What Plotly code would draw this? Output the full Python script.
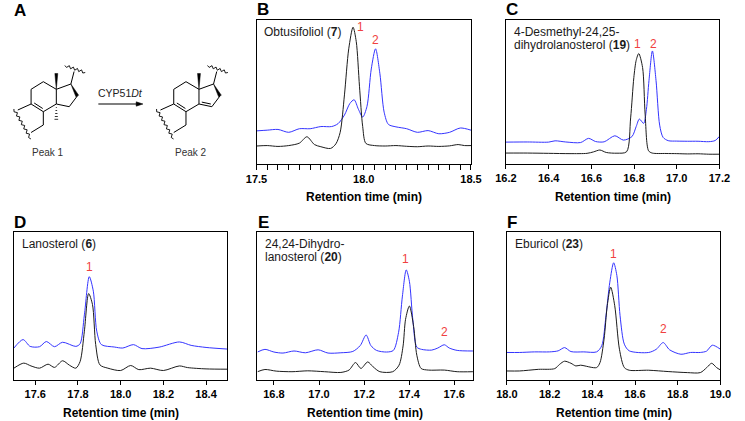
import plotly.graph_objects as go

W, H = 745, 421
FONT = "Liberation Sans, Arial, sans-serif"
BLACK = "#1c1c1c"
BLUE = "#3434ff"
RED = "#f04040"

# --- B: obtusifoliol (7) ---
b_black_t = [17.50, 17.55, 17.60, 17.65, 17.70, 17.735, 17.77, 17.80, 17.845, 17.87, 17.89, 17.91,
             17.93, 17.95, 17.965, 17.98, 17.995, 18.01, 18.05, 18.10, 18.15, 18.20, 18.25, 18.30,
             18.35, 18.40, 18.44, 18.47, 18.50]
b_black_y = [12.5, 12.8, 12.2, 12.8, 14.5, 18.9, 13.5, 12.0, 10.8, 14.0, 22.0, 48.0,
             80.0, 95.0, 85.0, 54.0, 26.0, 14.3, 12.8, 12.5, 12.8, 12.3, 12.0, 12.5,
             12.2, 12.6, 13.5, 12.8, 12.8]
b_blue_t = [17.50, 17.55, 17.60, 17.65, 17.70, 17.75, 17.80, 17.85, 17.88, 17.91, 17.935, 17.955,
            17.975, 17.995, 18.015, 18.035, 18.055, 18.075, 18.095, 18.115, 18.15, 18.20, 18.25,
            18.30, 18.35, 18.40, 18.45, 18.50]
b_blue_y = [23.0, 23.5, 24.0, 22.0, 24.5, 24.5, 26.0, 26.0, 28.0, 34.0, 42.0, 44.6,
            38.0, 32.6, 40.0, 66.0, 80.0, 63.0, 36.0, 27.5, 25.8, 24.5, 22.0,
            23.2, 21.0, 22.0, 25.0, 23.5]
b_peaks_t = [17.983, 18.055]
b_peaks_y = [95, 86]
b_peaks_txt = ["1", "2"]

# --- C: 4-desmethyl-24,25-dihydrolanosterol (19) ---
c_black_t = [16.20, 16.30, 16.40, 16.50, 16.58, 16.61, 16.64, 16.67, 16.72, 16.765, 16.784, 16.799,
             16.81, 16.822, 16.84, 16.852, 16.868, 16.885, 16.95, 17.00, 17.05, 17.10, 17.15, 17.20]
c_black_y = [7.6, 7.6, 7.4, 7.2, 7.4, 8.4, 9.7, 8.0, 7.5, 8.5, 32.0, 60.0,
             72.0, 76.7, 67.0, 34.6, 9.2, 7.6, 7.3, 7.2, 7.0, 7.1, 6.8, 6.8]
c_blue_t = [16.20, 16.30, 16.40, 16.43, 16.48, 16.55, 16.587, 16.62, 16.66, 16.71, 16.75, 16.79,
            16.81, 16.825, 16.845, 16.858, 16.87, 16.886, 16.903, 16.92, 16.936, 16.96, 17.00,
            17.05, 17.10, 17.15, 17.18, 17.20]
c_blue_y = [15.2, 15.3, 15.2, 16.1, 15.3, 14.9, 17.8, 15.6, 15.4, 19.6, 16.6, 19.0,
            26.0, 31.2, 28.2, 38.0, 58.0, 78.5, 58.0, 27.0, 18.5, 16.2, 15.9,
            15.8, 15.8, 15.5, 16.3, 19.2]
c_peaks_t = [16.817, 16.889]
c_peaks_y = [83, 83]
c_peaks_txt = ["1", "2"]

# --- D: lanosterol (6) ---
d_black_t = [17.50, 17.546, 17.58, 17.62, 17.66, 17.69, 17.728, 17.76, 17.79, 17.81, 17.83, 17.85,
             17.868, 17.883, 17.903, 17.94, 18.00, 18.047, 18.085, 18.14, 18.20, 18.275, 18.313,
             18.40, 18.50]
d_black_y = [8.0, 11.4, 9.5, 8.0, 10.7, 8.5, 13.0, 10.0, 8.0, 12.5, 33.0, 58.4,
             51.0, 24.0, 10.2, 8.0, 6.4, 9.8, 7.0, 8.0, 6.4, 9.5, 8.4,
             7.5, 7.3]
d_blue_t = [17.50, 17.543, 17.576, 17.62, 17.652, 17.69, 17.728, 17.79, 17.81, 17.83, 17.853,
            17.872, 17.888, 17.91, 17.97, 18.01, 18.06, 18.10, 18.18, 18.275, 18.33, 18.40, 18.50]
d_blue_y = [21.6, 27.3, 22.7, 22.5, 26.0, 22.5, 25.5, 22.7, 24.5, 44.0, 69.8,
            60.0, 33.0, 23.9, 22.3, 21.6, 23.9, 21.2, 22.2, 25.7, 23.4, 22.0, 20.9]
d_peaks_t = [17.853]
d_peaks_y = [76.6]
d_peaks_txt = ["1"]

# --- E: 24,24-dihydrolanosterol (20) ---
e_black_t = [16.727, 16.76, 16.81, 16.88, 16.95, 17.025, 17.097, 17.133, 17.162, 17.186, 17.216,
             17.24, 17.27, 17.327, 17.355, 17.373, 17.384, 17.401, 17.42, 17.434, 17.453, 17.485,
             17.556, 17.613, 17.683]
e_black_y = [5.6, 7.1, 6.0, 5.6, 6.2, 5.6, 5.1, 6.7, 11.8, 7.8, 12.2,
             8.9, 5.6, 5.6, 10.0, 23.0, 41.0, 50.0, 36.0, 16.7, 7.8, 6.7,
             6.7, 5.6, 5.6]
e_blue_t = [16.727, 16.76, 16.80, 16.84, 16.889, 16.94, 16.996, 17.04, 17.097, 17.15, 17.183,
            17.209, 17.23, 17.255, 17.30, 17.33, 17.353, 17.37, 17.387, 17.401, 17.416, 17.434,
            17.455, 17.50, 17.527, 17.556, 17.578, 17.613, 17.683]
e_blue_y = [18.9, 20.7, 18.9, 18.2, 19.6, 18.4, 20.4, 18.2, 18.4, 19.3, 23.3,
            30.4, 23.3, 20.0, 18.9, 20.0, 32.2, 56.7, 74.4, 66.7, 41.1, 22.2,
            20.7, 20.2, 21.6, 23.8, 21.6, 20.0, 19.6]
e_peaks_t = [17.384, 17.556]
e_peaks_y = [81.6, 32.2]
e_peaks_txt = ["1", "2"]

# --- F: eburicol (23) ---
f_black_t = [18.00, 18.058, 18.148, 18.224, 18.247, 18.27, 18.30, 18.323, 18.345, 18.42, 18.436,
             18.455, 18.47, 18.486, 18.505, 18.527, 18.55, 18.573, 18.664, 18.755, 18.845, 18.906,
             18.936, 18.959, 18.982, 19.00]
f_black_y = [6.1, 6.1, 7.2, 7.7, 10.6, 12.7, 11.3, 9.5, 10.0, 8.4, 11.8,
             27.6, 50.2, 62.7, 50.2, 20.8, 8.4, 6.6, 6.6, 5.7, 5.0, 5.0,
             8.4, 11.3, 8.4, 6.8]
f_blue_t = [18.00, 18.058, 18.13, 18.20, 18.24, 18.27, 18.30, 18.36, 18.42, 18.444, 18.464,
            18.482, 18.50, 18.515, 18.53, 18.55, 18.573, 18.664, 18.70, 18.732, 18.762, 18.815,
            18.86, 18.906, 18.935, 18.962, 19.00]
f_blue_y = [18.6, 18.6, 19.0, 19.0, 19.7, 21.9, 19.2, 19.0, 19.0, 23.1, 43.4,
            66.1, 79.2, 70.6, 43.4, 24.2, 19.7, 18.6, 20.8, 25.3, 20.4, 17.4,
            18.6, 18.6, 19.5, 23.5, 20.8]
f_peaks_t = [18.497, 18.732]
f_peaks_y = [85.3, 34.8]
f_peaks_txt = ["1", "2"]


def px(x, y):
    """pixel -> paper coords"""
    return x / W, 1 - y / H


panels = [
    dict(letter="B", box=(253, 20, 474, 164), rng=[17.5, 18.5], tick0=17.5, dtick=0.5, minor=0.05,
         black=(b_black_t, b_black_y), blue=(b_blue_t, b_blue_y),
         peaks=(b_peaks_t, b_peaks_y, b_peaks_txt), label=["Obtusifoliol (<b>7</b>)"]),
    dict(letter="C", box=(510, 20, 730, 164), rng=[16.2, 17.2], tick0=16.2, dtick=0.2, minor=None,
         black=(c_black_t, c_black_y), blue=(c_blue_t, c_blue_y),
         peaks=(c_peaks_t, c_peaks_y, c_peaks_txt),
         label=["4-Desmethyl-24,25-", "dihydrolanosterol (<b>19</b>)"]),
    dict(letter="D", box=(3, 232, 223, 380), rng=[17.5, 18.5], tick0=17.6, dtick=0.2, minor=None,
         black=(d_black_t, d_black_y), blue=(d_blue_t, d_blue_y),
         peaks=(d_peaks_t, d_peaks_y, d_peaks_txt), label=["Lanosterol (<b>6</b>)"]),
    dict(letter="E", box=(254, 232, 476, 380), rng=[16.727, 17.683], tick0=16.8, dtick=0.2, minor=None,
         black=(e_black_t, e_black_y), blue=(e_blue_t, e_blue_y),
         peaks=(e_peaks_t, e_peaks_y, e_peaks_txt),
         label=["24,24-Dihydro-", "lanosterol (<b>20</b>)"]),
    dict(letter="F", box=(511, 232, 731, 380), rng=[18.0, 19.0], tick0=18.0, dtick=0.2, minor=None,
         black=(f_black_t, f_black_y), blue=(f_blue_t, f_blue_y),
         peaks=(f_peaks_t, f_peaks_y, f_peaks_txt), label=["Eburicol (<b>23</b>)"]),
]

fig = go.Figure()
layout = dict(width=W, height=H, margin=dict(l=0, r=0, t=0, b=0), showlegend=False,
              plot_bgcolor="white", paper_bgcolor="white", font=dict(family=FONT, color="black"))
annotations = []
shapes = []


def note(x, y, text, size, color="black", xanchor="center"):
    lx, ly = px(x, y)
    annotations.append(dict(x=lx, y=ly, xref="paper", yref="paper", text=text, showarrow=False,
                            xanchor=xanchor, yanchor="middle", font=dict(size=size, color=color)))


for i, p in enumerate(panels, start=1):
    sfx = "" if i == 1 else str(i)
    x0, y0, x1, y1 = p["box"]
    xa = dict(domain=[x0 / W, x1 / W], range=p["rng"], anchor="y" + sfx,
              showline=True, mirror=True, linecolor="black", linewidth=1.3,
              showgrid=False, zeroline=False, ticks="outside", ticklen=4, tickwidth=1.2,
              tickcolor="black", tick0=p["tick0"], dtick=p["dtick"], tickformat=".1f",
              tickfont=dict(size=11, weight="bold", family=FONT, color="black"))
    if p["minor"]:
        xa["minor"] = dict(dtick=p["minor"], ticks="outside", ticklen=5, tickwidth=1.2, tickcolor="black")
        xa["ticklen"] = 5
    ya = dict(domain=[1 - y1 / H, 1 - y0 / H], range=[0, 100], anchor="x" + sfx,
              showline=True, mirror=True, linecolor="black", linewidth=1.3,
              showgrid=False, zeroline=False, showticklabels=False, ticks="")
    layout["xaxis" + sfx] = xa
    layout["yaxis" + sfx] = ya

    fig.add_trace(go.Scatter(x=p["blue"][0], y=p["blue"][1], mode="lines", xaxis="x" + sfx, yaxis="y" + sfx,
                             line=dict(color=BLUE, width=1, shape="spline", smoothing=0.8)))
    fig.add_trace(go.Scatter(x=p["black"][0], y=p["black"][1], mode="lines", xaxis="x" + sfx, yaxis="y" + sfx,
                             line=dict(color=BLACK, width=1, shape="spline", smoothing=0.8)))

    for t, v, s in zip(*p["peaks"]):
        annotations.append(dict(x=t, y=v, xref="x" + sfx, yref="y" + sfx, text=s, showarrow=False,
                                xanchor="center", yanchor="middle", font=dict(size=12, color=RED)))

    for k, line in enumerate(p["label"]):
        note(x0 + 6, y0 + 11.5 + 13.4 * k, line, 12, "#1a1a1a", xanchor="left")

    note(x0 - 2, y0 - 10, "<b>%s</b>" % p["letter"], 17, xanchor="left")
    note((x0 + x1) / 2, y1 + 33, "<b>Retention time (min)</b>", 12)

# --- panel A: reaction scheme drawn with shapes ---
note(1, 11, "<b>A</b>", 17, xanchor="left")


def seg(a, b, w=1.0):
    (ax, ay), (bx, by) = px(*a), px(*b)
    shapes.append(dict(type="line", xref="paper", yref="paper", x0=ax, y0=ay, x1=bx, y1=by,
                       line=dict(color="black", width=w)))


def poly(pts):
    d = "M " + " L ".join("%f,%f" % px(*q) for q in pts) + " Z"
    shapes.append(dict(type="path", xref="paper", yref="paper", path=d,
                       fillcolor="black", line=dict(color="black", width=0.5)))


def wavy(a, b, n=6, amp=1.3):
    ax, ay = a
    bx, by = b
    dx, dy = bx - ax, by - ay
    ln = (dx * dx + dy * dy) ** 0.5
    nx, ny = -dy / ln, dx / ln
    pts = []
    for k in range(2 * n + 1):
        f = k / (2 * n)
        s = amp * (1 if k % 2 else -1) if 0 < k < 2 * n else 0
        pts.append(px(ax + dx * f + nx * s, ay + dy * f + ny * s))
    d = "M " + " L ".join("%f,%f" % q for q in pts)
    shapes.append(dict(type="path", xref="paper", yref="paper", path=d, line=dict(color="black", width=0.9)))


def molecule(ox, product):
    v = {k: (x + ox, y) for k, (x, y) in dict(
        v1=(20.7, 89.3), v2=(33.3, 81.7), v3=(46.7, 89.3), v4=(46.7, 104), v5=(33.3, 111.7),
        v6=(20.7, 104), v7=(61.7, 84), v8=(68.3, 96), v9=(60, 106.7)).items()}
    for a, b in [("v1", "v2"), ("v2", "v3"), ("v3", "v4"), ("v4", "v5"), ("v5", "v6"), ("v6", "v1"),
                 ("v3", "v7"), ("v8", "v9"), ("v9", "v4")]:
        seg(v[a], v[b])
    # double bond inside ring C
    seg((23.9 + ox, 103.0), (32.7 + ox, 108.5))
    if product:
        seg((49.6 + ox, 102.1), (58.9 + ox, 104.0))
    else:
        for k, yy in enumerate([107.5, 110.5, 113.5, 116.5, 119.3]):
            hw = 0.5 + 0.35 * k
            seg((46.7 + ox - hw, yy), (46.7 + ox + hw, yy), 0.8)
    # methyl wedge and D-ring wedge
    poly([v["v3"], (45.2 + ox, 73.5), (48.2 + ox, 73.5)])
    poly([v["v7"], (66.9 + ox, 96.8), (69.7 + ox, 95.2)])
    # side chain stub
    seg(v["v7"], (65 + ox, 71.5))
    wavy((55.5 + ox, 65.5), (76.5 + ox, 72.5), n=5)
    # ring B stubs
    seg(v["v6"], (7 + ox, 110))
    seg(v["v5"], (33.3 + ox, 125))
    seg((33.3 + ox, 125), (20.7 + ox, 132.5))
    wavy((3 + ox, 109), (20.5 + ox, 139), n=7)


molecule(0, False)
molecule(147, True)

# arrow
seg((90, 104), (132, 104), 1.1)
poly([(136, 104), (129, 101.8), (129, 106.2)])
note(113, 93, "CYP51<i>Dt</i>", 10.5, "#222")
note(38, 152, "Peak 1", 10, "#333")
note(185, 152, "Peak 2", 10, "#333")

layout["annotations"] = annotations
layout["shapes"] = shapes
fig.update_layout(**layout)
# drop the browser's default body margin so the figure sits at the window's corner
fig.write_html("out.html", config={"displayModeBar": False},
               post_script="document.body.style.margin = '0';")
